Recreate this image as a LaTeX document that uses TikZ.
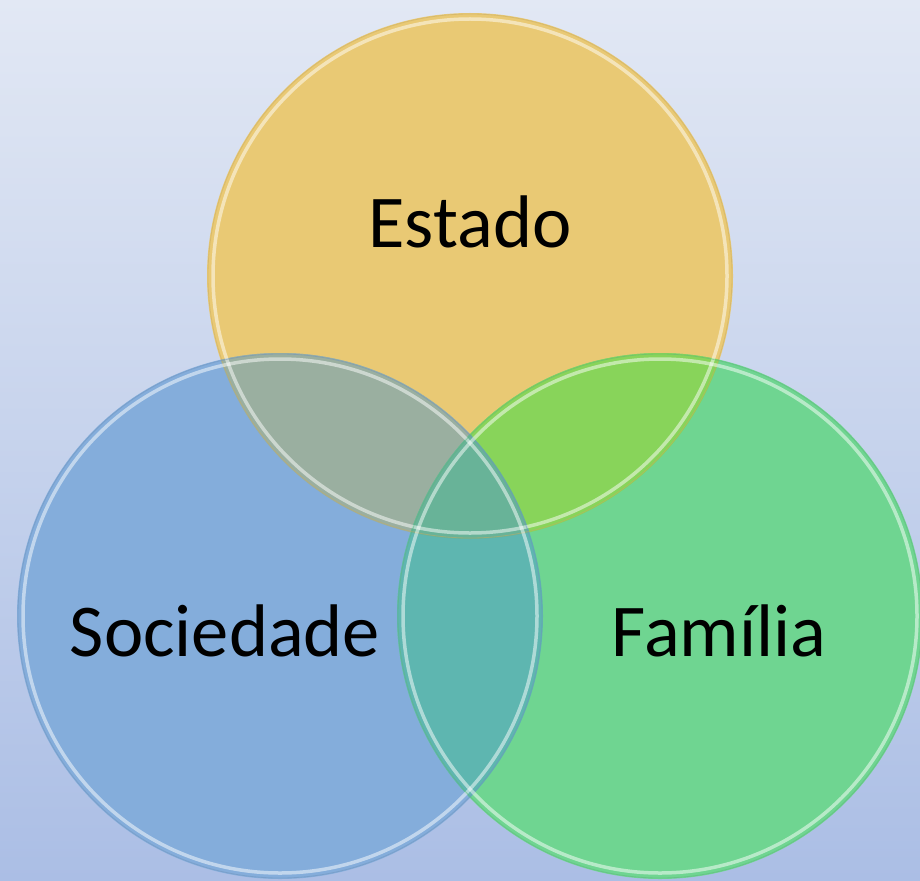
\documentclass[tikz,border=0pt]{standalone}
\usepackage{fontspec}
\setmainfont{Carlito}
\usetikzlibrary{positioning}
\definecolor{bgtop}{HTML}{E2E8F4}
\definecolor{bgbottom}{HTML}{ABBEE5}
\definecolor{estadoC}{HTML}{E9C974}
\definecolor{sociedadeC}{HTML}{84ADDB}
\definecolor{familiaC}{HTML}{6FD591}
\definecolor{esC}{HTML}{9AAFA0}
\definecolor{efC}{HTML}{88D45A}
\definecolor{sfC}{HTML}{5EB6B0}
\definecolor{esfC}{HTML}{68B398}
\begin{document}
\begin{tikzpicture}[x=1pt, y=-1pt,
	ring/.style={circle, minimum size=526pt, inner sep=0pt},
	rim/.style={white, opacity=0.5, line width=3.5pt},
	edge/.style={line width=0.8pt, opacity=0.5},
	circletext/.style={anchor=base, inner sep=0pt, font=\fontsize{74.5pt}{80pt}\selectfont}]
	% background
	\shade[top color=bgtop, bottom color=bgbottom] (0,0) rectangle (920,880);
	\useasboundingbox (0,0) rectangle (920,880);
	% the three circles
	\node[ring, fill=estadoC] (estado) at (470,276) {};
	\node[ring, fill=sociedadeC] (sociedade) at (280,616) {};
	\node[ring, fill=familiaC] (familia) at (660,616) {};
	% overlaps
	\begin{scope}
		\clip (estado.center) circle[radius=263pt];
		\fill[esC] (sociedade.center) circle[radius=263pt];
		\fill[efC] (familia.center) circle[radius=263pt];
	\end{scope}
	\begin{scope}
		\clip (sociedade.center) circle[radius=263pt];
		\fill[sfC] (familia.center) circle[radius=263pt];
		\clip (estado.center) circle[radius=263pt];
		\fill[esfC] (familia.center) circle[radius=263pt];
	\end{scope}
	% glossy rims
	\draw[edge, estadoC!85!black] (estado.center) circle[radius=262pt];
	\draw[rim] (estado.center) circle[radius=257pt];
	\draw[edge, sociedadeC!85!black] (sociedade.center) circle[radius=262pt];
	\draw[rim] (sociedade.center) circle[radius=257pt];
	\draw[edge, familiaC!85!black] (familia.center) circle[radius=262pt];
	\draw[rim] (familia.center) circle[radius=257pt];
	% labels
	\node[circletext] (estadotxt) at (470,247) {Estado};
	\node[circletext] (sociedadetxt) at (225,656) {Sociedade};
	\node[circletext] (familiatxt) at (719,656) {Família};
\end{tikzpicture}
\end{document}
